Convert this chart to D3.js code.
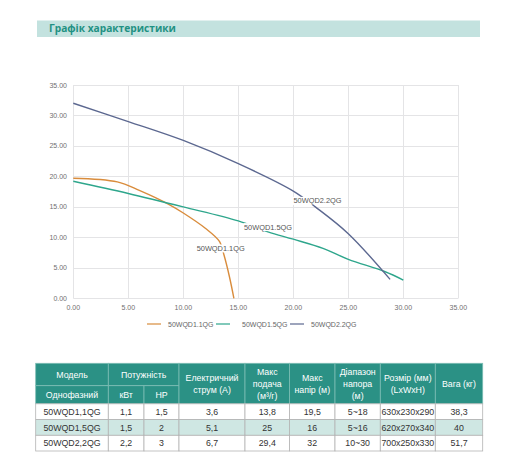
<!DOCTYPE html>
<html>
<head>
<meta charset="utf-8">
<script src="https://cdn.jsdelivr.net/npm/d3@7"></script>
<style>
  body { margin: 0; background: #fff; }
  svg { display: block; font-family: "Liberation Sans", Arial, sans-serif; }
</style>
</head>
<body>
<script>
// pump curves: flow (m3/h) vs head (m)
var names = ["50WQD1.1QG", "50WQD1.5QG", "50WQD2.2QG"];
var colors = ["#d98c3c", "#2ea68c", "#5c6890"];

var flow11 = [0, 4, 6, 8.8, 10, 12, 13.3, 13.7, 14.2, 14.6];
var head11 = [19.7, 19.1, 17.7, 15.3, 14.0, 11.5, 9.3, 7.1, 3.5, 0];
var flow15 = [0, 5, 10, 15, 17.7, 20, 22.7, 25, 28.3, 30];
var head15 = [19.2, 17.2, 15.0, 12.7, 10.9, 9.7, 8.2, 6.4, 4.4, 3.0];
var flow22 = [0, 5, 10, 15, 20, 22, 25, 28.8];
var head22 = [32, 29, 25.9, 22.1, 17.6, 15.0, 10.6, 3.1];

// where each curve label sits (data units)
var labelFlow = [13.4, 17.7, 22.2];
var labelHead = [8.2, 11.7, 16.0];

var ticks = [0, 5, 10, 15, 20, 25, 30, 35];

// spec table
var models = ["50WQD1,1QG", "50WQD1,5QG", "50WQD2,2QG"];
var kw = ["1,1", "1,5", "2,2"];
var hp = ["1,5", "2", "3"];
var current = ["3,6", "5,1", "6,7"];
var maxFlow = ["13,8", "25", "29,4"];
var maxHead = ["19,5", "16", "32"];
var headRange = ["5~18", "5~16", "10~30"];
var sizes = ["630x230x290", "620x270x340", "700x250x330"];
var weights = ["38,3", "40", "51,7"];

var W = 512, H = 471;
var svg = d3.select("body").append("svg").attr("width", W).attr("height", H);

// title bar
svg.append("rect").attr("x", 37).attr("y", 20.5).attr("width", 443).attr("height", 16.5)
    .attr("fill", "#c3e2df");
svg.append("text").attr("x", 49).attr("y", 32.3)
    .attr("font-size", 10.2).attr("font-weight", "bold").attr("fill", "#1f9183")
    .attr("font-family", "'Open Sans', 'DejaVu Sans', sans-serif")
    .text("Графік характеристики");

// chart
var x = d3.scaleLinear().domain([0, 35]).range([73.3, 458.3]);
var y = d3.scaleLinear().domain([0, 35]).range([298.3, 85]);

var grid = svg.append("g").attr("stroke", "#e4e4e6").attr("stroke-width", 1);
grid.selectAll(".gx").data(ticks).enter().append("line")
    .attr("x1", function (d) { return Math.round(x(d)) + 0.5; })
    .attr("x2", function (d) { return Math.round(x(d)) + 0.5; })
    .attr("y1", y(35)).attr("y2", y(0));
grid.selectAll(".gy").data(ticks).enter().append("line")
    .attr("y1", function (d) { return Math.round(y(d)) + 0.5; })
    .attr("y2", function (d) { return Math.round(y(d)) + 0.5; })
    .attr("x1", x(0)).attr("x2", x(35));

svg.selectAll(".ty").data(ticks).enter().append("text")
    .attr("x", 67).attr("y", function (d) { return y(d) + 2.5; })
    .attr("text-anchor", "end").attr("font-size", 7).attr("fill", "#707070")
    .text(function (d) { return d.toFixed(2); });
svg.selectAll(".tx").data(ticks).enter().append("text")
    .attr("x", function (d) { return x(d); }).attr("y", 309.5)
    .attr("text-anchor", "middle").attr("font-size", 7).attr("fill", "#707070")
    .text(function (d) { return d.toFixed(2); });

var series = [
    d3.zip(flow11, head11),
    d3.zip(flow15, head15),
    d3.zip(flow22, head22)
];

var line = d3.line()
    .x(function (d) { return x(d[0]); })
    .y(function (d) { return y(d[1]); })
    .curve(d3.curveCatmullRom.alpha(0.5));

svg.selectAll(".curve").data(series).enter().append("path")
    .attr("d", line)
    .attr("fill", "none")
    .attr("stroke", function (d, i) { return colors[i]; })
    .attr("stroke-width", 1.4);

// curve labels with a white back
names.forEach(function (n, i) {
    var g = svg.append("g");
    var t = g.append("text")
        .attr("x", x(labelFlow[i])).attr("y", y(labelHead[i]) + 2.6)
        .attr("text-anchor", "middle").attr("font-size", 7.4).attr("fill", "#555")
        .text(n);
    var bb = t.node().getBBox();
    g.insert("rect", "text").attr("x", bb.x - 0.5).attr("y", bb.y + 0.5)
        .attr("width", bb.width + 1).attr("height", bb.height - 1).attr("fill", "#fff");
});

// legend
var legendX = [147, 216, 290];
var legend = svg.selectAll(".leg").data(names).enter().append("g")
    .attr("transform", function (d, i) { return "translate(" + legendX[i] + ",324)"; });
legend.append("line").attr("x1", 0).attr("x2", 14)
    .attr("stroke", function (d, i) { return colors[i]; }).attr("stroke-width", 1.5)
    .attr("opacity", 0.8);
legend.append("text")
    .attr("x", function (d, i) { return i == 1 ? 26 : 21; }).attr("y", 2.5)
    .attr("font-size", 7).attr("fill", "#666")
    .text(function (d) { return d; });

// table
var colX = [35.7, 108.3, 144, 179, 245, 289.5, 335, 380.3, 435.3, 482.7];
var rowY = [363.3, 385.7, 403.8, 419.6, 435.3, 451];
var headFill = "#2b9185";

var table = svg.append("g");

function cell(c0, c1, r0, r1, fill, stroke) {
    table.append("rect")
        .attr("x", colX[c0]).attr("y", rowY[r0])
        .attr("width", colX[c1] - colX[c0]).attr("height", rowY[r1] - rowY[r0])
        .attr("fill", fill).attr("stroke", stroke).attr("stroke-width", 0.8);
}
function label(c0, c1, r0, r1, lines, color, size, lh) {
    var cx = (colX[c0] + colX[c1]) / 2, cy = (rowY[r0] + rowY[r1]) / 2;
    var t = table.append("text").attr("text-anchor", "middle")
        .attr("font-size", size).attr("fill", color);
    lines.forEach(function (s, k) {
        t.append("tspan").attr("x", cx)
            .attr("y", cy + (k - (lines.length - 1) / 2) * lh + size * 0.36)
            .text(s);
    });
}

var headStroke = "#7dbdb4";
var heads = [
    [0, 1, 0, 1, ["Модель"]],
    [0, 1, 1, 2, ["Однофазний"]],
    [1, 3, 0, 1, ["Потужність"]],
    [1, 2, 1, 2, ["кВт"]],
    [2, 3, 1, 2, ["HP"]],
    [3, 4, 0, 2, ["Електричний", "струм (A)"]],
    [4, 5, 0, 2, ["Макс", "подача", "(м³/г)"]],
    [5, 6, 0, 2, ["Макс", "напір (м)"]],
    [6, 7, 0, 2, ["Діапазон", "напора", "(м)"]],
    [7, 8, 0, 2, ["Розмір (мм)", "(LxWxH)"]],
    [8, 9, 0, 2, ["Вага (кг)"]]
];
heads.forEach(function (h) { cell(h[0], h[1], h[2], h[3], headFill, headStroke); });
heads.forEach(function (h) { label(h[0], h[1], h[2], h[3], h[4], "#ffffff", 8.8, 12); });

var cols = [models, kw, hp, current, maxFlow, maxHead, headRange, sizes, weights];
models.forEach(function (m, r) {
    var fill = r == 1 ? "#cfe7e3" : "#ffffff";
    cols.forEach(function (col, c) {
        cell(c, c + 1, r + 2, r + 3, fill, "#b3b3b3");
    });
    cols.forEach(function (col, c) {
        label(c, c + 1, r + 2, r + 3, [col[r]], "#333", 8.8, 12);
    });
});
</script>
</body>
</html>
